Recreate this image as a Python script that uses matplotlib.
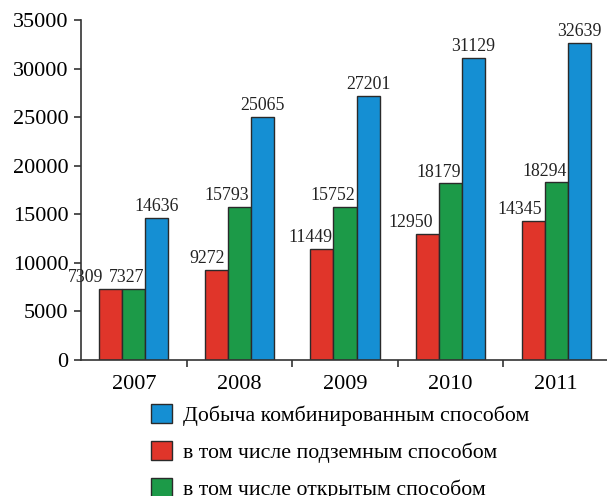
import matplotlib
matplotlib.use("Agg")
import matplotlib.pyplot as plt
from matplotlib.patches import Patch
import numpy as np

plt.rcParams['font.family'] = ['Liberation Serif', 'DejaVu Serif']

years = ["2007", "2008", "2009", "2010", "2011"]
underground = [7309, 9272, 11449, 12950, 14345]
openpit = [7327, 15793, 15752, 18179, 18294]
combined = [14636, 25065, 27201, 31129, 32639]

label_combined = "Добыча комбинированным способом"
label_under = "в том числе подземным способом"
label_open = "в том числе открытым способом"

c_red = "#e0352a"
c_green = "#1c9a48"
c_blue = "#158fd3"
edge = "#2a2a2a"

# x-shift (px) of the right end of red labels from the red bar right edge
red_dx = [-19, -3, -1, -6, -3]

fig = plt.figure(figsize=(6.07, 4.96), dpi=100)
ax = fig.add_axes([81 / 607, 1 - 360 / 496, 528 / 607, 340 / 496])

x = np.arange(len(years))
w = 0.218
b_red = ax.bar(x - w, underground, w, color=c_red, edgecolor=edge, linewidth=1)
b_green = ax.bar(x, openpit, w, color=c_green, edgecolor=edge, linewidth=1)
b_blue = ax.bar(x + w, combined, w, color=c_blue, edgecolor=edge, linewidth=1)

for i in range(len(years)):
    ax.annotate(str(underground[i]), (x[i] - w / 2, underground[i]),
                xytext=(red_dx[i] * 0.72, 2), textcoords="offset points",
                ha="right", va="bottom", fontsize=12.8, color="#222222")
    ax.annotate(str(openpit[i]), (x[i] + w / 2, openpit[i]),
                xytext=(-1, 2), textcoords="offset points",
                ha="right", va="bottom", fontsize=12.8, color="#222222")
    ax.annotate(str(combined[i]), (x[i] + w, combined[i]),
                xytext=(0, 2), textcoords="offset points",
                ha="center", va="bottom", fontsize=12.8, color="#222222")

ax.set_xlim(-0.5, 4.5)
ax.set_ylim(0, 35000)
ax.set_yticks(np.arange(0, 35001, 5000))
ax.set_xticks(x)
ax.set_xticklabels(years)
ax.set_xticks(x[:-1] + 0.5, minor=True)
ax.tick_params(axis="x", which="major", length=0, pad=11, labelsize=16)
ax.tick_params(axis="x", which="minor", length=5, width=1.2, color="#333333")
ax.tick_params(axis="y", length=5, width=1.2, pad=4, labelsize=16, color="#333333")

for s in ["top", "right"]:
    ax.spines[s].set_visible(False)
for s in ["left", "bottom"]:
    ax.spines[s].set_color("#333333")
    ax.spines[s].set_linewidth(1.2)

handles = [Patch(facecolor=c_blue, edgecolor=edge, linewidth=1),
           Patch(facecolor=c_red, edgecolor=edge, linewidth=1),
           Patch(facecolor=c_green, edgecolor=edge, linewidth=1)]
fig.legend(handles, [label_combined, label_under, label_open],
           loc="upper left", bbox_to_anchor=(151 / 607, 1 - 404 / 496),
           frameon=False, fontsize=15.7, handlelength=0.96, handleheight=0.96,
           handletextpad=0.5, labelspacing=0.68, borderpad=0, borderaxespad=0)

fig.savefig("out.png", dpi=100)
